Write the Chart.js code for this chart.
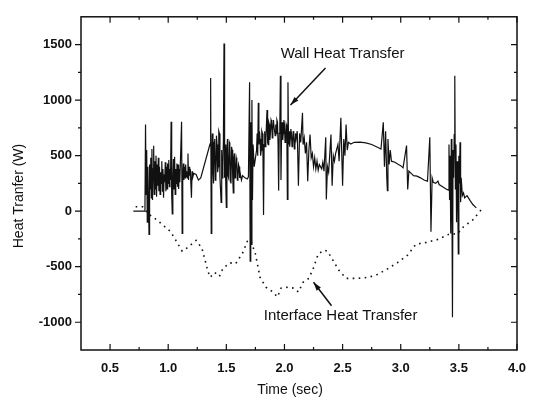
<!DOCTYPE html>
<html lang="en">
<head>
<meta charset="UTF-8">
<title>Heat Transfer</title>
<script src="https://cdn.jsdelivr.net/npm/chart.js"></script>
<style>
  body { margin: 0; background: #fff; }
  .chart-box { width: 538px; height: 408px; }
</style>
</head>
<body>
<div class="chart-box">
  <canvas id="heatChart" width="538" height="408"></canvas>
</div>
<script>
// values: [time (sec), heat (W)]
const wallSeries = [
  [0.70,0],[0.80,0],[0.805,780],[0.81,150],[0.815,550],[0.82,-100],[0.825,400],[0.83,150],[0.835,-210],
  [0.84,420],[0.845,200],[0.85,480],[0.855,120],[0.86,560],[0.865,100],[0.87,380],[0.875,590],[0.88,150],
  [0.885,450],[0.89,200],[0.895,500],[0.90,130],[0.905,420],[0.91,230],[0.915,480],[0.92,180],[0.925,400],
  [0.93,150],[0.935,350],[0.94,250],[0.945,450],[0.95,180],[0.955,380],[0.96,120],[0.965,330],[0.97,260],
  [0.975,440],[0.98,180],[0.985,400],[0.99,200],[0.995,430],[1.00,250],[1.005,460],[1.01,220],[1.015,380],
  [1.02,280],[1.025,805],[1.03,150],[1.035,-25],[1.04,300],[1.045,470],[1.05,200],[1.055,490],[1.06,150],
  [1.065,380],[1.07,250],[1.075,430],[1.08,220],[1.085,420],[1.09,200],[1.095,380],[1.10,260],[1.115,805],
  [1.12,-200],[1.125,300],[1.13,430],[1.135,280],[1.14,400],[1.145,300],[1.15,420],[1.155,310],[1.16,360],
  [1.165,300],[1.17,520],[1.175,280],[1.18,400],[1.185,320],[1.19,380],[1.20,120],[1.205,360],[1.21,300],
  [1.22,340],[1.24,330],[1.26,280],[1.28,300],[1.36,605],[1.365,1200],[1.37,-200],[1.375,500],[1.38,700],
  [1.385,350],[1.39,250],[1.395,620],[1.40,650],[1.405,280],[1.41,300],[1.415,680],[1.42,600],[1.425,350],
  [1.43,400],[1.435,720],[1.44,700],[1.445,300],[1.45,200],[1.455,80],[1.46,550],[1.465,300],[1.47,400],
  [1.475,650],[1.48,1510],[1.485,300],[1.49,600],[1.495,250],[1.50,35],[1.505,550],[1.51,650],[1.515,320],
  [1.52,300],[1.525,620],[1.53,600],[1.535,280],[1.54,250],[1.545,580],[1.55,550],[1.555,300],[1.56,165],
  [1.565,480],[1.57,520],[1.575,300],[1.58,350],[1.585,480],[1.59,450],[1.595,280],[1.60,300],[1.605,420],
  [1.61,400],[1.615,300],[1.62,340],[1.63,280],[1.64,320],[1.66,300],[1.68,290],[1.69,310],[1.70,1160],
  [1.705,-450],[1.71,800],[1.715,-300],[1.72,1000],[1.725,100],[1.73,600],[1.74,400],[1.76,550],[1.765,700],
  [1.77,500],[1.775,975],[1.78,600],[1.785,720],[1.79,650],[1.795,500],[1.80,550],[1.805,720],[1.81,700],
  [1.815,520],[1.82,-35],[1.825,600],[1.83,720],[1.835,580],[1.84,650],[1.845,780],[1.85,910],[1.855,620],
  [1.86,600],[1.865,800],[1.87,780],[1.875,640],[1.88,720],[1.885,820],[1.89,800],[1.895,660],[1.90,740],
  [1.905,820],[1.91,760],[1.92,680],[1.925,780],[1.93,700],[1.935,820],[1.94,800],[1.945,600],[1.95,185],
  [1.955,700],[1.96,750],[1.965,1220],[1.97,280],[1.975,700],[1.98,800],[1.985,640],[1.99,700],[1.995,820],
  [2.00,780],[2.005,620],[2.01,650],[2.015,780],[2.02,760],[2.025,105],[2.03,1160],[2.035,600],[2.04,720],
  [2.045,580],[2.05,650],[2.055,740],[2.06,700],[2.065,580],[2.07,620],[2.075,720],[2.08,680],[2.085,560],
  [2.09,600],[2.095,700],[2.10,650],[2.11,720],[2.12,230],[2.13,700],[2.14,620],[2.155,885],[2.16,600],
  [2.17,660],[2.18,520],[2.19,620],[2.20,270],[2.21,550],[2.22,690],[2.23,480],[2.24,520],[2.25,400],
  [2.26,480],[2.27,380],[2.28,450],[2.29,370],[2.30,420],[2.31,400],[2.32,380],[2.33,440],[2.34,360],
  [2.355,665],[2.36,105],[2.37,400],[2.38,350],[2.40,690],[2.41,230],[2.42,500],[2.43,450],[2.44,520],
  [2.46,600],[2.47,450],[2.485,840],[2.50,230],[2.51,650],[2.52,500],[2.53,780],[2.54,550],[2.55,620],
  [2.57,605],[2.60,620],[2.65,622],[2.70,615],[2.75,600],[2.80,575],[2.83,560],[2.85,800],[2.86,400],
  [2.87,720],[2.88,300],[2.885,185],[2.89,650],[2.90,420],[2.91,550],[2.92,450],[2.95,440],[2.98,420],
  [3.00,410],[3.02,390],[3.05,590],[3.06,195],[3.07,360],[3.09,340],[3.11,320],[3.14,315],[3.17,300],
  [3.20,280],[3.23,270],[3.25,665],[3.26,-185],[3.27,300],[3.28,260],[3.30,250],[3.32,270],[3.33,240],
  [3.36,220],[3.39,200],[3.41,190],[3.415,600],[3.42,100],[3.425,500],[3.43,-200],[3.435,650],[3.44,150],
  [3.445,-955],[3.45,550],[3.455,300],[3.46,690],[3.465,1220],[3.47,200],[3.475,600],[3.48,-100],[3.485,450],
  [3.49,200],[3.495,-385],[3.50,500],[3.505,250],[3.51,620],[3.515,80],[3.52,300],[3.53,140],[3.54,165],
  [3.55,120],[3.57,140],[3.60,90],[3.62,60],[3.65,30]
];

const interfaceSeries = [
  [0.72,40],[0.78,40],[0.83,-26],[0.905,-80],[0.96,-130],[1.02,-184],[1.07,-270],[1.12,-360],[1.16,-333],
  [1.24,-263],[1.29,-333],[1.34,-535],[1.36,-596],[1.40,-552],[1.44,-588],[1.47,-517],[1.53,-465],[1.58,-474],
  [1.64,-377],[1.68,-272],[1.71,-263],[1.75,-386],[1.79,-596],[1.84,-684],[1.90,-728],[1.94,-772],[1.97,-693],
  [2.03,-684],[2.08,-693],[2.12,-728],[2.16,-640],[2.21,-605],[2.25,-509],[2.29,-386],[2.34,-351],[2.37,-360],
  [2.41,-430],[2.47,-535],[2.53,-605],[2.63,-605],[2.72,-596],[2.80,-570],[2.89,-517],[2.97,-465],[3.06,-395],
  [3.13,-298],[3.22,-281],[3.32,-254],[3.41,-210],[3.49,-202],[3.54,-140],[3.62,-79],[3.69,10]
];

const xTicks = [0.5, 1.0, 1.5, 2.0, 2.5, 3.0, 3.5, 4.0];
const xMinor = [0.75, 1.25, 1.75, 2.25, 2.75, 3.25, 3.75];
const yTicks = [-1000, -500, 0, 500, 1000, 1500];
const yMinor = [-750, -250, 250, 750, 1250];

const ink = '#111';
const fontName = "'Liberation Sans', Arial, sans-serif";

// text and arrows in data units: [x, y]
const notes = [
  { text: 'Wall Heat Transfer', at: [2.50, 1420], from: [2.353, 1289], to: [2.052, 956] },
  { text: 'Interface Heat Transfer', at: [2.483, -947], from: [2.405, -851], to: [2.25, -640] }
];

function arrow(ctx, x1, y1, x2, y2) {
  ctx.beginPath();
  ctx.moveTo(x1, y1);
  ctx.lineTo(x2, y2);
  ctx.stroke();
  const a = Math.atan2(y2 - y1, x2 - x1);
  ctx.beginPath();
  ctx.moveTo(x2, y2);
  ctx.lineTo(x2 - 9 * Math.cos(a - 0.3), y2 - 9 * Math.sin(a - 0.3));
  ctx.lineTo(x2 - 9 * Math.cos(a + 0.3), y2 - 9 * Math.sin(a + 0.3));
  ctx.closePath();
  ctx.fill();
}

const framePlugin = {
  id: 'frame',
  afterDraw(chart) {
    const ctx = chart.ctx;
    const a = chart.chartArea;
    const sx = chart.scales.x, sy = chart.scales.y;
    ctx.save();
    ctx.strokeStyle = ink;
    ctx.fillStyle = ink;
    ctx.lineWidth = 1.5;
    ctx.strokeRect(a.left, a.top, a.right - a.left, a.bottom - a.top);

    ctx.lineWidth = 1.2;
    ctx.beginPath();
    xTicks.concat(xMinor).forEach(v => {
      const len = xTicks.includes(v) ? 6 : 3;
      const px = sx.getPixelForValue(v);
      ctx.moveTo(px, a.bottom); ctx.lineTo(px, a.bottom - len);
      ctx.moveTo(px, a.top); ctx.lineTo(px, a.top + len);
    });
    yTicks.concat(yMinor).forEach(v => {
      const len = yTicks.includes(v) ? 6 : 3;
      const py = sy.getPixelForValue(v);
      ctx.moveTo(a.left, py); ctx.lineTo(a.left - len, py);
      ctx.moveTo(a.right, py); ctx.lineTo(a.right - len, py);
    });
    ctx.stroke();

    // axis titles
    ctx.font = '14px ' + fontName;
    ctx.textAlign = 'center';
    ctx.textBaseline = 'middle';
    ctx.fillText('Time (sec)', 290, 390);
    ctx.save();
    ctx.translate(19, 196);
    ctx.rotate(-Math.PI / 2);
    ctx.fillText('Heat Tranfer (W)', 0, 0);
    ctx.restore();

    // annotations
    ctx.font = '15px ' + fontName;
    ctx.lineWidth = 1.5;
    notes.forEach(n => {
      ctx.fillText(n.text, sx.getPixelForValue(n.at[0]), sy.getPixelForValue(n.at[1]));
      arrow(ctx,
        sx.getPixelForValue(n.from[0]), sy.getPixelForValue(n.from[1]),
        sx.getPixelForValue(n.to[0]), sy.getPixelForValue(n.to[1]));
    });
    ctx.restore();
  }
};

const tickFont = { family: fontName, size: 13, weight: 'bold' };

new Chart(document.getElementById('heatChart'), {
  type: 'line',
  data: {
    datasets: [
      {
        label: 'Wall Heat Transfer',
        data: wallSeries.map(p => ({ x: p[0], y: p[1] })),
        borderColor: ink,
        borderWidth: 1.2,
        pointRadius: 0,
        tension: 0
      },
      {
        label: 'Interface Heat Transfer',
        data: interfaceSeries.map(p => ({ x: p[0], y: p[1] })),
        borderColor: ink,
        borderWidth: 1.6,
        borderDash: [1.6, 4.4],
        pointRadius: 0,
        tension: 0
      }
    ]
  },
  options: {
    responsive: false,
    animation: false,
    layout: { padding: { left: 0, top: 10, right: 21, bottom: 0 } },
    plugins: { legend: { display: false }, tooltip: { enabled: false } },
    scales: {
      x: {
        type: 'linear',
        min: 0.25,
        max: 4.0,
        grid: { display: false, drawTicks: false },
        border: { display: false },
        ticks: {
          font: tickFont, color: ink, padding: 11, maxRotation: 0, autoSkip: false,
          callback: v => v.toFixed(1)
        },
        afterBuildTicks: s => { s.ticks = xTicks.map(v => ({ value: v })); },
        afterFit: s => { s.height = 58; }
      },
      y: {
        min: -1250,
        max: 1750,
        grid: { display: false, drawTicks: false },
        border: { display: false },
        ticks: { font: tickFont, color: ink, padding: 9, autoSkip: false, callback: v => String(v) },
        afterBuildTicks: s => { s.ticks = yTicks.map(v => ({ value: v })); },
        afterFit: s => { s.width = 81; }
      }
    }
  },
  plugins: [framePlugin]
});
</script>
</body>
</html>
